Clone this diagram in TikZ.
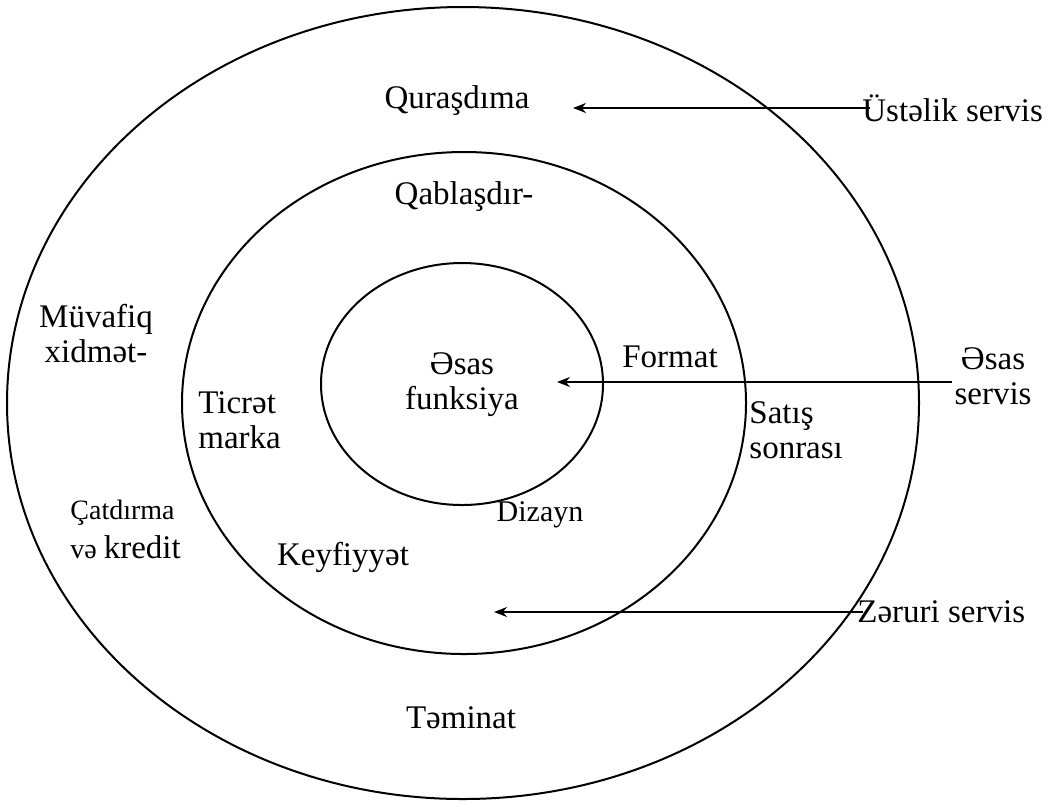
\documentclass[tikz,border=0pt]{standalone}
\usepackage{fontspec}
\setmainfont{Liberation Serif}
\usetikzlibrary{arrows.meta}
\begin{document}
\begin{tikzpicture}[x=0.5pt,y=-0.5pt,
  ring/.style={line width=1pt},
  lbl/.style={inner sep=0pt,font=\fontsize{16.5}{17.5}\selectfont},
  slbl/.style={inner sep=0pt,font=\fontsize{14}{15}\selectfont},
  arr/.style={line width=1pt,-{Stealth[length=6.5pt,width=5pt]}}]
\useasboundingbox (0,0) rectangle (1048,800);
% rings
\draw[ring] (463,403) ellipse [x radius=456, y radius=396];
\draw[ring] (464,403) ellipse [x radius=282, y radius=251];
\draw[ring] (462,384) ellipse [x radius=141, y radius=121];
% labels
\node[lbl] (qur) at (457,101) {Quraşdıma};
\node[lbl] (qab) at (464,197) {Qablaşdır-};
\node[lbl,align=center] (muv) at (96,334) {Müvafiq\\xidmət-};
\node[lbl,align=left,anchor=west] (tic) at (198,420) {Ticrət\\marka};
\node[lbl,align=center] (esf) at (462,385) {Əsas\\funksiya};
\node[lbl] (for) at (670,357) {Format};
\node[lbl,align=left,anchor=west] (sat) at (749,430) {Satış\\sonrası};
\node[lbl,align=center] (ess) at (993,376) {Əsas\\servis};
\node[inner sep=0pt,font=\fontsize{15}{16}\selectfont] (diz) at (540,515) {Dizayn};
\node[slbl,anchor=west] (cat) at (70,513) {Çatdırma};
\node[anchor=west,inner sep=0pt] (vek) at (70,547) {\fontsize{14}{15}\selectfont və \fontsize{16.5}{17.5}\selectfont kredit};
\node[lbl] (key) at (343,557) {Keyfiyyət};
\node[lbl] (tem) at (461,718) {Təminat};
\node[lbl,anchor=west] (ust) at (862,108) {Üstəlik servis};
\node[lbl,anchor=west] (zer) at (857,612) {Zəruri servis};
% arrow ends
\coordinate (t1) at (573,108);
\coordinate (s2) at (952,382);
\coordinate (t2) at (557,382);
\coordinate (t3) at (494,612);
% arrows
\draw[arr] ([xshift=4pt]ust.west) -- (t1);
\draw[arr] (s2) -- (t2);
\draw[arr] ([xshift=3pt]zer.west) -- (t3);
\end{tikzpicture}
\end{document}
